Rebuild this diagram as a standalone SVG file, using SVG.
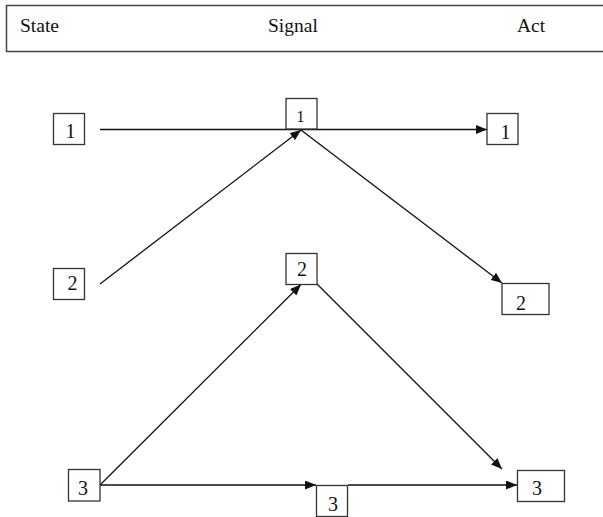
<svg xmlns="http://www.w3.org/2000/svg" width="603" height="517" viewBox="0 0 603 517">
<style>
.box{fill:#fff;stroke:#333;stroke-width:1.3}
.t{font-family:"Liberation Serif","Times New Roman",serif;font-size:19.5px;fill:#111}
.n{font-family:"Liberation Serif","Times New Roman",serif;font-size:20px;fill:#111;text-anchor:middle}
.c line{stroke:#111;stroke-width:1.3}
</style>
<defs>
<marker id="ah" markerUnits="userSpaceOnUse" markerWidth="12" markerHeight="9" refX="11" refY="4.5" orient="auto">
<path d="M0,0 L11,4.5 L0,9 z" fill="#111"/>
</marker>
</defs>
<g id="header">
<rect x="6.5" y="5.5" width="610" height="46" fill="#fff" stroke="#444" stroke-width="1.5"/>
<text class="t" x="20" y="32">State</text>
<text class="t" x="268" y="32">Signal</text>
<text class="t" x="517" y="32">Act</text>
</g>
<g class="c" id="connectors">
<line x1="100" y1="129.5" x2="487" y2="129.5" marker-end="url(#ah)"/>
<line x1="100" y1="284" x2="301" y2="130" marker-end="url(#ah)"/>
<line x1="301" y1="130" x2="502" y2="283" marker-end="url(#ah)"/>
<line x1="100" y1="485" x2="301" y2="284.5" marker-end="url(#ah)"/>
<line x1="317" y1="284" x2="502" y2="469" marker-end="url(#ah)"/>
<line x1="100" y1="485" x2="316" y2="485" marker-end="url(#ah)"/>
<line x1="348" y1="485" x2="517" y2="485" marker-end="url(#ah)"/>
</g>
<g id="state1"><rect class="box" x="53.5" y="113.5" width="31" height="31"/><text class="n" x="70.5" y="138">1</text></g>
<g id="signal1"><rect class="box" x="286" y="98.5" width="31" height="30.5"/><text class="n" x="300.5" y="122" style="font-size:16px">1</text></g>
<g id="act1"><rect class="box" x="487" y="113.5" width="31" height="31"/><text class="n" x="505.5" y="139">1</text></g>
<g id="state2"><rect class="box" x="53.5" y="268.5" width="31" height="31"/><text class="n" x="72.5" y="290">2</text></g>
<g id="signal2"><rect class="box" x="286" y="253.5" width="31" height="31"/><text class="n" x="302" y="276">2</text></g>
<g id="act2"><rect class="box" x="502" y="283.5" width="47" height="31"/><text class="n" x="521" y="310">2</text></g>
<g id="state3"><rect class="box" x="68.5" y="469.5" width="31.5" height="31.5"/><text class="n" x="83" y="495">3</text></g>
<g id="signal3"><rect class="box" x="316.5" y="485.5" width="31" height="31"/><text class="n" x="333" y="511">3</text></g>
<g id="act3"><rect class="box" x="517.5" y="470.5" width="47" height="31"/><text class="n" x="537" y="495">3</text></g>
</svg>
